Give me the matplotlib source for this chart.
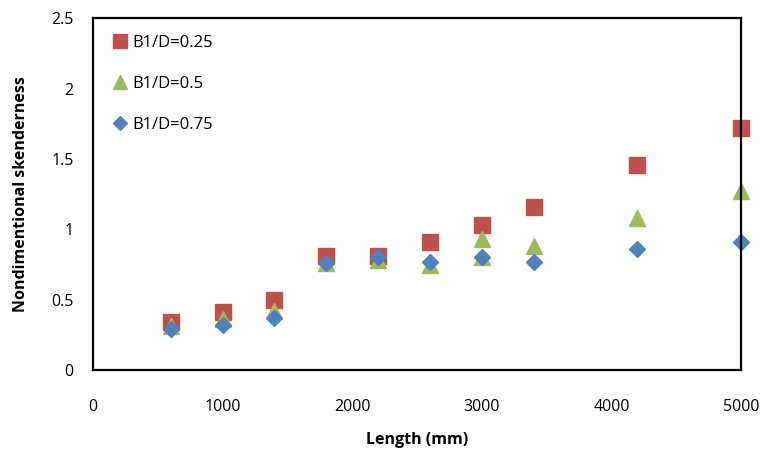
import matplotlib.pyplot as plt

# data
length_a = [600, 1000, 1400, 1800, 2200, 2600, 3000, 3400, 4200, 5000]
slender_a = [0.34, 0.41, 0.50, 0.81, 0.81, 0.91, 1.03, 1.16, 1.46, 1.72]

length_b = [600, 1000, 1400, 1800, 2200, 2600, 3000, 3000, 3400, 4200, 5000]
slender_b = [0.31, 0.36, 0.42, 0.76, 0.78, 0.75, 0.80, 0.93, 0.88, 1.08, 1.27]

length_c = [600, 1000, 1400, 1800, 2200, 2600, 3000, 3400, 4200, 5000]
slender_c = [0.29, 0.32, 0.37, 0.76, 0.80, 0.77, 0.80, 0.77, 0.86, 0.91]

labels = ["B1/D=0.25", "B1/D=0.5", "B1/D=0.75"]
x_ticks = [0, 1000, 2000, 3000, 4000, 5000]
y_ticks = [0, 0.5, 1, 1.5, 2, 2.5]

plt.rcParams['font.family'] = ['Open Sans', 'DejaVu Sans']

fig = plt.figure(figsize=(7.66, 4.53), dpi=100)
ax = fig.add_axes([0.1214, 0.183, 0.846, 0.777])

ax.plot(length_a, slender_a, linestyle="none", marker="s", ms=12,
        color="#C0504D", label=labels[0], clip_on=False)
ax.plot(length_b, slender_b, linestyle="none", marker="^", ms=12,
        color="#9BBB59", label=labels[1], clip_on=False)
ax.plot(length_c, slender_c, linestyle="none", marker="D", ms=8.5,
        color="#4F81BD", label=labels[2], clip_on=False)

ax.set_xlim(0, 5000)
ax.set_ylim(0, 2.5)
ax.set_xticks(x_ticks)
ax.set_yticks(y_ticks)
ax.set_xticklabels([str(v) for v in x_ticks])
ax.set_yticklabels(["0", "0.5", "1", "1.5", "2", "2.5"])
ax.tick_params(length=0, labelsize=11.5)
ax.tick_params(axis="x", pad=21)
ax.tick_params(axis="y", pad=14)

for s in ax.spines.values():
    s.set_linewidth(1.6)
    s.set_color("black")

ax.set_xlabel("Length (mm)", fontsize=11.5, fontweight="bold", labelpad=12)
ax.set_ylabel("Nondimentional skenderness", fontsize=11.5, fontweight="bold",
              labelpad=16)

ax.legend(loc="upper left", frameon=False, fontsize=12, labelspacing=1.5,
          handletextpad=0.15, handlelength=1.2, borderaxespad=0.6,
          markerscale=0.85)

fig.savefig("out.png", dpi=100)
